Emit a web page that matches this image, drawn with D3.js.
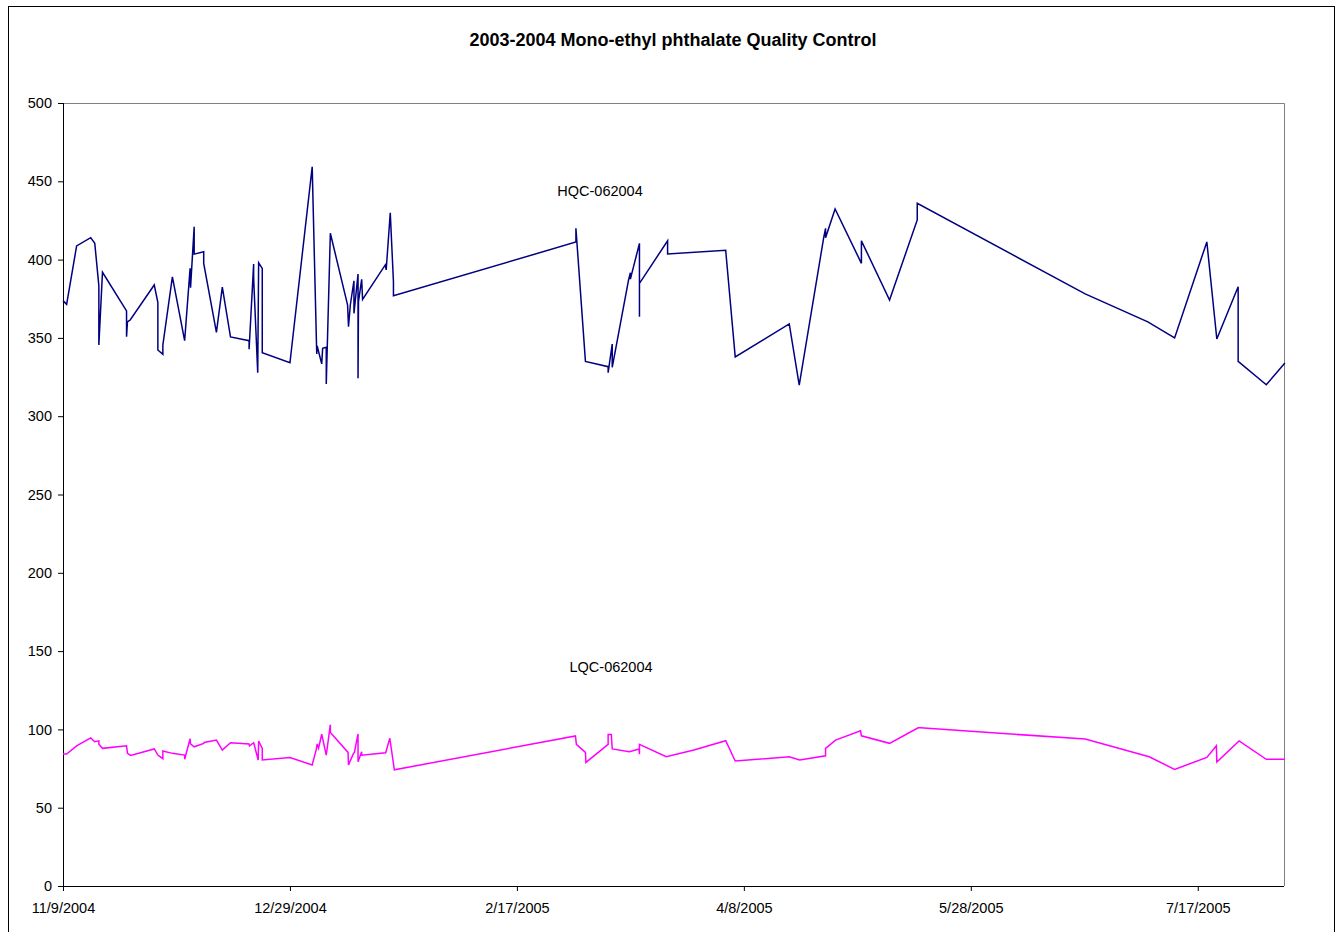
<!DOCTYPE html>
<html><head><meta charset="utf-8">
<script src="https://cdn.jsdelivr.net/npm/d3@7"></script>
<style>body{margin:0;background:#fff;} svg{display:block;font-family:"Liberation Sans",Arial,sans-serif;}</style>
</head><body>
<svg id="c" width="1342" height="932"></svg>
<script>
const startDate = "2004-11-09";
const endDate = "2005-08-05";
const tickDays = [0, 50, 100, 150, 200, 250];
const yTicks = [0, 50, 100, 150, 200, 250, 300, 350, 400, 450, 500];
const seriesNames = ["HQC-062004", "LQC-062004"];

// days after start date
const hqcDays = [0,0.8,3.0,6.1,7.0,7.9,7.9,8.7,14.0,14.0,14.2,14.8,20.1,20.9,20.9,22.0,22.0,24.1,26.8,28.0,28.1,28.9,28.9,31.0,31.0,33.8,35.1,36.9,41.0,41.0,42.0,42.0,42.9,43.1,43.9,43.9,50.0,54.9,55.9,56.0,57.0,57.2,58.0,58.0,58.9,62.7,62.9,63.3,64.1,64.1,65.0,65.0,65.1,65.8,66.0,71.0,71.2,72.1,72.8,72.8,113.0,113.0,115.1,120.1,120.1,121.0,121.0,124.6,125.0,125.0,127.0,127.0,127.0,133.2,133.2,146.0,148.1,160.0,162.2,167.6,168.0,168.0,170.1,175.9,175.9,182.1,188.2,188.2,225.2,239.0,244.9,252.0,254.2,258.9,258.9,265.1,269.2];
const hqcValues = [373.8,371.4,408.7,414,410.4,383.2,345.5,391.9,367.2,350.8,360.3,361.4,383.8,372.5,342.3,339.5,345.5,389,348.2,394.4,382.1,421,403.5,405,397.6,353.5,382.4,350.6,348.2,342.7,397.2,388,327.8,398,394.4,340.5,334.1,459.3,339.7,344.8,333.4,343.3,344,320.6,416.8,371,357.1,371,386.5,365.7,390.8,324.2,373.1,387.4,374.6,396.6,393.4,429.9,385.8,376.9,411.2,420,335,331.6,327.8,346.1,331.2,387,391.6,387.5,410.4,363.5,384.8,412,403.6,405.9,337.8,358.9,319.9,414.2,420,414,432.3,397.6,412,374.2,425.3,436,378.1,360.2,350,411.3,349.3,382.7,335,320.1,334];

const lqcDays = [0,0.8,3.0,6.1,7.0,7.9,7.9,8.7,14.0,14.2,14.9,20.1,20.9,22.0,22.0,24.1,26.8,26.8,28.0,28.1,28.9,31.0,31.1,33.8,35.1,36.9,41.0,41.1,42.0,42.1,43.0,43.1,43.9,43.9,50.0,54.9,55.8,56.0,56.3,57.0,58.0,58.9,58.9,62.8,62.9,64.0,64.2,65.0,65.0,65.8,65.8,71.1,72.0,73.0,112.9,113.1,115.1,115.2,120.1,120.1,120.8,121.0,124.8,126.9,127.0,127.0,132.9,139.0,146.0,148.1,160.0,162.3,168.0,168.0,170.2,175.7,175.9,182.1,188.4,188.9,225.2,239.3,244.9,252.0,254.1,254.2,259.1,265.1,269.2];
const lqcValues = [84.3,84.3,89.5,94.6,92.1,92.7,90.5,87.9,89.5,84.7,83.4,87.5,83.6,81.3,86.2,84.7,83.6,80.9,94,90.7,88.9,91.1,91.7,93.2,86.8,91.5,90.7,89.4,91.5,90.5,80.5,92.6,87.9,80.5,82.1,77.3,87.2,90.7,88,96.9,83.6,103,98.1,85.3,77.3,84.7,85.3,97.1,79.3,85.7,83.5,85.1,94.3,74.2,95.8,90.4,85.3,78.9,90.4,96.8,96.8,87.5,85.8,87.5,84.1,90.4,82.5,86.8,92.8,79.8,82.5,80.5,83.1,87.9,93.2,99.1,95.9,91.1,101,101,93.8,82.5,74.5,82.1,89.5,79.2,92.6,80.9,80.9];

const parse = d3.timeParse("%Y-%m-%d");
const t0 = parse(startDate), t1 = parse(endDate);
const dayToDate = d => new Date(t0.getTime() + d * 86400000);

const svg = d3.select("#c");
const L = 63, R = 1284, T = 103, B = 886;

// outer chart border
svg.append("rect").attr("x", 8.5).attr("y", 6.5).attr("width", 1326).attr("height", 960)
  .attr("fill", "none").attr("stroke", "#000").attr("stroke-width", 1);

const x = d3.scaleTime().domain([t0, t1]).range([L, R]);
const y = d3.scaleLinear().domain([0, 500]).range([B, T]);

// plot area frame (top/right gray)
svg.append("path").attr("d", `M${L},${T + 0.5}H${R + 0.5}V${B}`)
  .attr("fill", "none").attr("stroke", "#808080").attr("stroke-width", 1);

// title
svg.append("text").attr("x", 673).attr("y", 45.5).attr("text-anchor", "middle")
  .attr("font-weight", "bold").attr("font-size", 18).attr("fill", "#000")
  .text("2003-2004 Mono-ethyl phthalate Quality Control");

// y axis
const yAxis = d3.axisLeft(y).tickValues(yTicks).tickSize(5).tickPadding(6).tickFormat(d3.format("d"));
const gy = svg.append("g").attr("transform", `translate(${L},0)`).call(yAxis);
gy.select(".domain").attr("stroke", "#000").attr("d", `M0.5,${T}V${B}`);
gy.selectAll(".tick line").attr("stroke", "#000");
gy.selectAll("text").attr("font-size", 14.5).attr("fill", "#000").attr("font-family", "Liberation Sans, Arial, sans-serif");

// x axis
const fmt = d => `${d.getMonth() + 1}/${d.getDate()}/${d.getFullYear()}`;
const xAxis = d3.axisBottom(x).tickValues(tickDays.map(dayToDate)).tickSize(5).tickPadding(12).tickFormat(fmt);
const gx = svg.append("g").attr("transform", `translate(0,${B})`).call(xAxis);
gx.select(".domain").attr("stroke", "#000").attr("d", `M${L},0.5H${R}`);
gx.selectAll(".tick line").attr("stroke", "#000");
gx.selectAll("text").attr("font-size", 14.5).attr("fill", "#000").attr("font-family", "Liberation Sans, Arial, sans-serif");

const line = d3.line().x(d => x(dayToDate(d[0]))).y(d => y(d[1]));
const hqc = hqcDays.map((d, i) => [d, hqcValues[i]]);
const lqc = lqcDays.map((d, i) => [d, lqcValues[i]]);

svg.append("path").datum(hqc).attr("d", line).attr("fill", "none")
  .attr("stroke", "#000080").attr("stroke-width", 1.5).attr("stroke-linejoin", "miter");
svg.append("path").datum(lqc).attr("d", line).attr("fill", "none")
  .attr("stroke", "#FF00FF").attr("stroke-width", 1.5).attr("stroke-linejoin", "miter");

// series labels
svg.append("text").attr("x", 600).attr("y", 196).attr("text-anchor", "middle")
  .attr("font-size", 14.5).attr("fill", "#000").text(seriesNames[0]);
svg.append("text").attr("x", 611).attr("y", 672).attr("text-anchor", "middle")
  .attr("font-size", 14.5).attr("fill", "#000").text(seriesNames[1]);
</script>
</body></html>
